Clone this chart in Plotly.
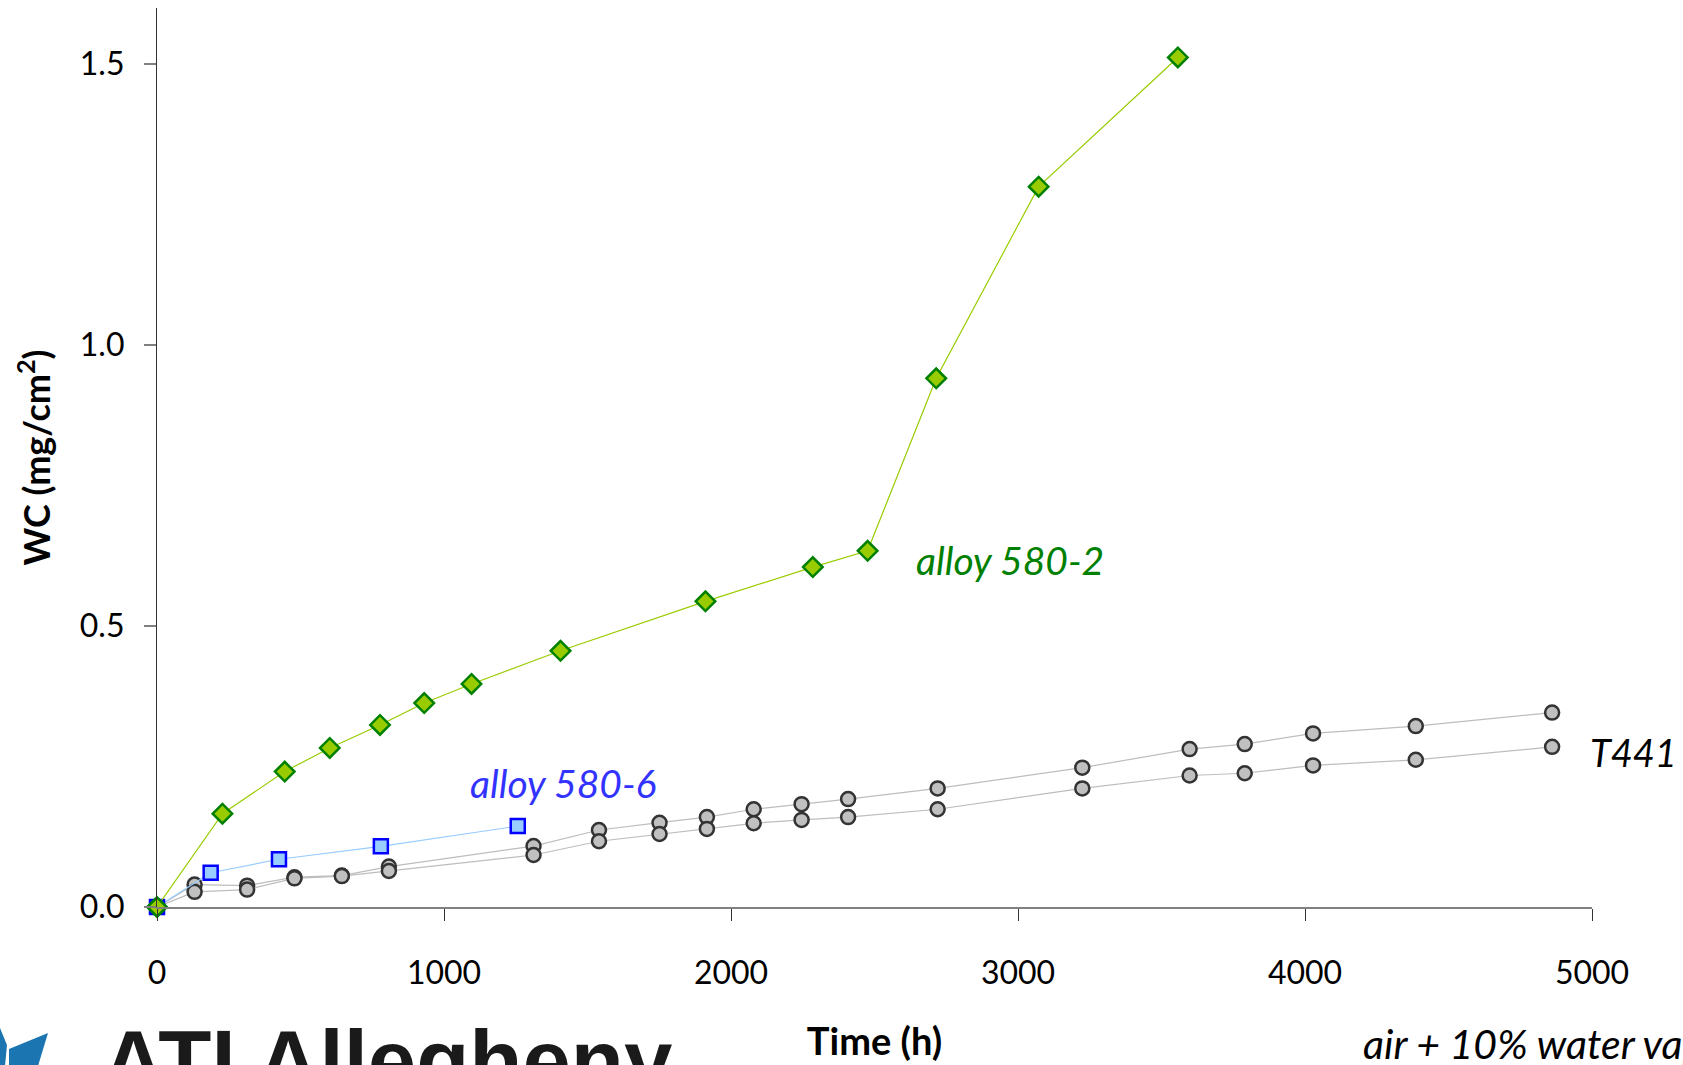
import plotly.graph_objects as go

# ---------------- data ----------------
alloy_580_2_time = [0, 228, 445, 602, 777, 931, 1096, 1406, 1911, 2285, 2476, 2715, 3072, 3557]
alloy_580_2_wc = [0, 0.166, 0.241, 0.283, 0.324, 0.363, 0.397, 0.456, 0.544, 0.605, 0.634, 0.941, 1.282, 1.512]

alloy_580_6_time = [0, 187, 425, 780, 1257]
alloy_580_6_wc = [0, 0.061, 0.085, 0.108, 0.144]

t441_time = [0, 131, 314, 479, 644, 808, 1312, 1540, 1751, 1916, 2079, 2246, 2408, 2720,
             3224, 3598, 3790, 4028, 4386, 4861]
t441_a_wc = [0, 0.040, 0.038, 0.053, 0.056, 0.072, 0.1085, 0.137, 0.150, 0.160, 0.174, 0.183,
             0.192, 0.211, 0.248, 0.281, 0.290, 0.309, 0.322, 0.346]
t441_b_wc = [0, 0.027, 0.031, 0.051, 0.055, 0.064, 0.0925, 0.117, 0.130, 0.139, 0.149, 0.155,
             0.160, 0.174, 0.211, 0.234, 0.238, 0.252, 0.262, 0.285]

x_ticks = [0, 1000, 2000, 3000, 4000, 5000]
y_ticks = [0.0, 0.5, 1.0, 1.5]

FONT = "Lato, 'Open Sans', sans-serif"
W, H = 1683, 1065
ML, MR, MT, MB = 157, 91, 8, 158

fig = go.Figure()

for ys in (t441_a_wc, t441_b_wc):
    fig.add_trace(go.Scatter(
        x=t441_time, y=ys, mode="lines+markers", cliponaxis=False,
        line=dict(color="#BDBDBD", width=1.2),
        marker=dict(symbol="circle", size=14, color="#C0C0C0",
                    line=dict(color="#333333", width=2.5)),
        showlegend=False))

fig.add_trace(go.Scatter(
    x=alloy_580_6_time, y=alloy_580_6_wc, mode="lines+markers", cliponaxis=False,
    line=dict(color="#99CCFF", width=1.2),
    marker=dict(symbol="square", size=14, color="#99CCFF",
                line=dict(color="#0000FF", width=2.5)),
    showlegend=False))

fig.add_trace(go.Scatter(
    x=alloy_580_2_time, y=alloy_580_2_wc, mode="lines+markers", cliponaxis=False,
    line=dict(color="#99CC00", width=1.2),
    marker=dict(symbol="diamond", size=15, color="#99CC00",
                line=dict(color="#008000", width=2.5)),
    showlegend=False))

# series labels
fig.add_annotation(x=2639, y=0.617, xref="x", yref="y", xanchor="left", yanchor="middle",
                   text="<i>alloy 580-2</i>", showarrow=False,
                   font=dict(family=FONT, size=39, color="#008000"))
fig.add_annotation(x=1085, y=0.220, xref="x", yref="y", xanchor="left", yanchor="middle",
                   text="<i>alloy 580-6</i>", showarrow=False,
                   font=dict(family=FONT, size=39, color="#3333FF"))
fig.add_annotation(x=4987, y=0.276, xref="x", yref="y", xanchor="left", yanchor="middle",
                   text="<i>T441</i>", showarrow=False,
                   font=dict(family=FONT, size=38, color="#000000"))

pw = W - ML - MR
ph = H - MT - MB


def px2paper(px, py):
    return (px - ML) / pw, (H - MB - py) / ph


ax, ay = px2paper(1361, 1043)
fig.add_annotation(x=ax, y=ay, xref="paper", yref="paper", xanchor="left", yanchor="middle",
                   text="<i>air + 10% water vapor</i>", showarrow=False,
                   font=dict(family=FONT, size=41, color="#000000"))

# logo (cut off at the bottom edge, as in the source)
lx, ly = px2paper(100, 1010)
fig.add_annotation(x=lx, y=ly, xref="paper", yref="paper", xanchor="left", yanchor="top",
                   text="<b>ATI Allegheny</b>", showarrow=False,
                   font=dict(family="'Liberation Sans', Arial, sans-serif", size=87, color="#1A1A1A"))


def poly(points):
    parts = []
    for i, (px, py) in enumerate(points):
        x, y = px2paper(px, py)
        parts.append(("M" if i == 0 else "L") + f"{x:.5f},{y:.5f}")
    return " ".join(parts) + " Z"


logo_blue = "#1A75B0"
fig.add_shape(type="path", xref="paper", yref="paper", line_width=0, fillcolor=logo_blue,
              path=poly([(9, 1049), (48, 1033), (38, 1066), (9, 1066)]))
fig.add_shape(type="path", xref="paper", yref="paper", line_width=0, fillcolor=logo_blue,
              path=poly([(0, 1028), (7, 1045), (5, 1066), (0, 1066)]))

fig.update_layout(
    width=W, height=H,
    margin=dict(l=ML, r=MR, t=MT, b=MB, autoexpand=False),
    paper_bgcolor="white", plot_bgcolor="white",
    font=dict(family=FONT, size=32, color="#000000"),
    xaxis=dict(
        range=[0, 5000], tickvals=x_ticks, ticktext=[str(v) for v in x_ticks],
        showgrid=False, zeroline=False,
        showline=True, linecolor="#808080", linewidth=2,
        ticks="outside", ticklen=12, tickcolor="#333333", tickwidth=1,
        ticklabelstandoff=25,
        tickfont=dict(family=FONT, size=32),
        title=dict(text="<b>Time (h)</b>", font=dict(family=FONT, size=38), standoff=38),
    ),
    yaxis=dict(
        range=[0, 1.6], tickvals=y_ticks, ticktext=[f"{v:.1f}" for v in y_ticks],
        showgrid=False, zeroline=False,
        showline=True, linecolor="#333333", linewidth=1.2,
        ticks="outside", ticklen=12, tickcolor="#808080", tickwidth=1.5,
        ticklabelstandoff=13,
        tickfont=dict(family=FONT, size=32),
        title=dict(text="<b>WC (mg/cm<sup>2</sup>)</b>", font=dict(family=FONT, size=36), standoff=18),
    ),
)

fig.write_html("out.html")
